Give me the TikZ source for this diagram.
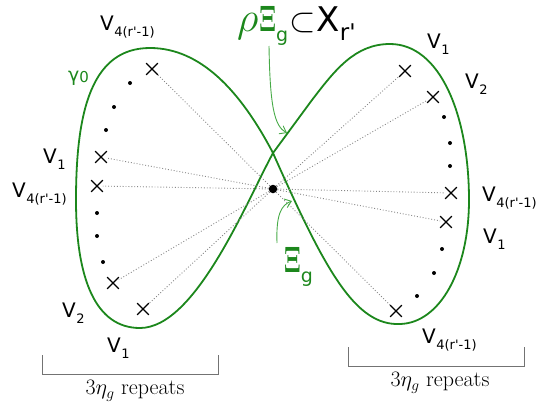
\documentclass[tikz,border=0pt]{standalone}
\usepackage{fix-cm}
\usepackage[no-math]{fontspec}
\usepackage{graphicx}
\newfontfamily\vfont{DejaVu Sans}
\usetikzlibrary{shapes.misc,arrows.meta}
\definecolor{gz}{RGB}{28,135,28}
\definecolor{ga}{RGB}{70,170,70}
\definecolor{gline}{RGB}{135,135,135}
\newcommand\Vlab[1]{{\vfont\fontsize{20}{20}\selectfont V\kern0.5pt\raisebox{-0.3em}{\fontsize{13}{13}\selectfont #1}}}
\newcommand\BXi{\scalebox{0.6}[1.0]{\fontsize{37}{37}\selectfont$\mathbf{\Xi}$}}
\tikzset{
  xmark/.style={cross out, draw=black, line width=1.2pt, minimum size=10.5pt, inner sep=0pt},
  smalldot/.style={circle, fill=black, inner sep=0pt, minimum size=4pt},
  hubdot/.style={circle, fill=black, inner sep=0pt, minimum size=8.5pt},
  ray/.style={draw=gline, dotted, line width=0.9pt},
  curve/.style={draw=gz, line width=1.8pt},
  pointer/.style={draw=ga, line width=0.9pt, -{Straight Barb[length=6pt,width=9pt]}},
  lab/.style={anchor=base west, inner sep=0pt},
  brack/.style={draw=gray!90!black, line width=1pt},
  rep/.style={inner sep=0pt, font=\fontsize{22}{22}\selectfont}
}
\begin{document}
\begin{tikzpicture}[x=1pt,y=-1pt]
\useasboundingbox (0,0) rectangle (546,410);
% figure-eight curve gamma_0
\coordinate (C) at (273,153);
\draw[curve] (C) .. controls (325,270) and (355,326) .. (400,324)
  .. controls (440,323) and (469,270) .. (469,200)
  .. controls (469,115) and (440,44) .. (390,44)
  .. controls (355,44) and (335,70) .. (312,100)
  -- (C)
  .. controls (245,205) and (195,328) .. (140,328)
  .. controls (96,328) and (76,280) .. (76,200)
  .. controls (76,110) and (92,48) .. (150,48)
  .. controls (200,48) and (240,90) .. (C) -- cycle;
% hub
\node[hubdot] (hub) at (273,189) {};
% left crosses
\node[xmark] (l1) at (152,69) {};
\node[xmark] (l2) at (101,157) {};
\node[xmark] (l3) at (97,186) {};
\node[xmark] (l4) at (113,283) {};
\node[xmark] (l5) at (143,309) {};
% right crosses
\node[xmark] (r1) at (405,71) {};
\node[xmark] (r2) at (433,97) {};
\node[xmark] (r3) at (451,193) {};
\node[xmark] (r4) at (446,222) {};
\node[xmark] (r5) at (396,311) {};
% rays
\foreach \n in {l1,l2,l3,l4,l5,r1,r2,r3,r4,r5}
  \path[ray] (hub) -- (\n);
% dots
\node[smalldot] (d1) at (130,83) {};
\node[smalldot] (d2) at (114,107) {};
\node[smalldot] (d3) at (106,130) {};
\node[smalldot] (d4) at (97,213) {};
\node[smalldot] (d5) at (97,236) {};
\node[smalldot] (d6) at (103,262) {};
\node[smalldot] (d7) at (444,117) {};
\node[smalldot] (d8) at (450,143) {};
\node[smalldot] (d9) at (450,166) {};
\node[smalldot] (d10) at (442,249) {};
\node[smalldot] (d11) at (434,273) {};
\node[smalldot] (d12) at (417,296) {};
% labels
\node[lab] (vA) at (100,30) {\Vlab{4(r'-1)}};
\node[lab] (vB) at (43,163) {\Vlab{1}};
\node[lab] (vC) at (12,197) {\Vlab{4(r'-1)}};
\node[lab] (vD) at (62,317) {\Vlab{2}};
\node[lab] (vE) at (107,352) {\Vlab{1}};
\node[lab] (vF) at (427,48) {\Vlab{1}};
\node[lab] (vG) at (465,88) {\Vlab{2}};
\node[lab] (vH) at (482,201) {\Vlab{4(r'-1)}};
\node[lab] (vI) at (483,243) {\Vlab{1}};
\node[lab] (vJ) at (422,343) {\Vlab{4(r'-1)}};
\node[lab, text=gz] (gam) at (68,81) {\vfont\fontsize{19}{19}\selectfont γ\raisebox{-0.1em}{\fontsize{15}{15}\selectfont 0}};
% title
\node[lab] (title) at (237,31) {\fontsize{34}{34}\selectfont{\color{gz}{\fontsize{42}{42}\selectfont$\rho$}\kern1pt\BXi\raisebox{-0.3em}{\vfont\fontsize{19}{19}\selectfont g}}\kern1pt$\subset$\kern1pt{\vfont X\raisebox{-0.28em}{\fontsize{23}{23}\selectfont r'}}};
\node[lab] (xig) at (284,272) {\fontsize{34}{34}\selectfont{\color{gz}\BXi\raisebox{-0.3em}{\vfont\fontsize{19}{19}\selectfont g}}};
% pointers
\coordinate (p1s) at (269,46);
\coordinate (p1e) at (287,133);
\coordinate (p2s) at (277,243);
\coordinate (p2e) at (292,201);
\draw[pointer] (p1s) .. controls (270,105) and (274,126) .. (p1e);
\draw[pointer] (p2s) .. controls (276,215) and (281,205) .. (p2e);
% brackets
\draw[brack] (42,355) -- (42,374) -- (218,374) -- (218,355);
\draw[brack] (348,347) -- (348,366) -- (524,366) -- (524,347);
\node[rep] (repL) at (135,391) {$3\eta_g$ repeats};
\node[rep] (repR) at (440,383) {$3\eta_g$ repeats};
\end{tikzpicture}
\end{document}
